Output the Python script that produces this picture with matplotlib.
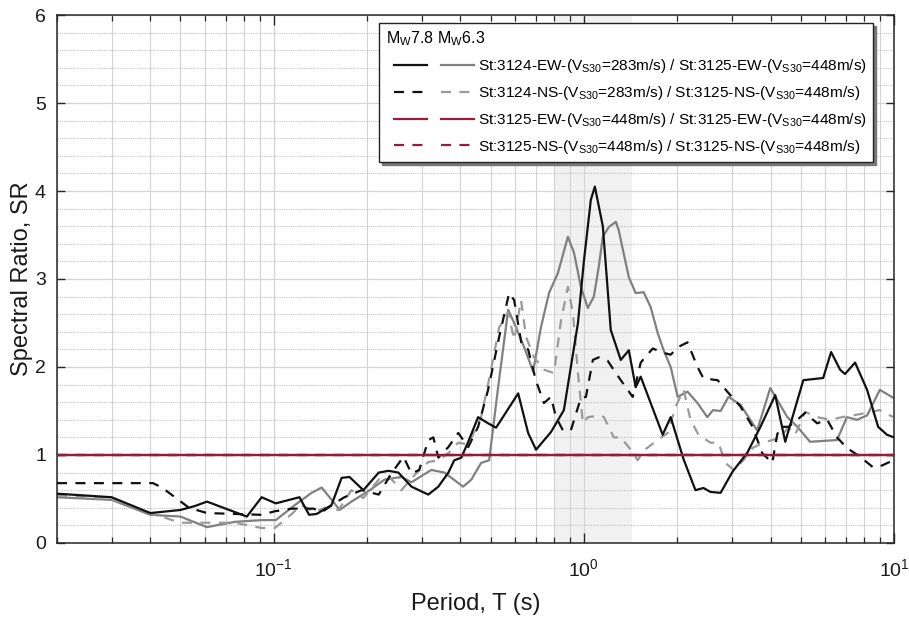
import matplotlib
matplotlib.use("Agg")
import matplotlib.pyplot as plt
from matplotlib.ticker import LogLocator, LogFormatterSciNotation, MultipleLocator, NullFormatter
from matplotlib.legend_handler import HandlerTuple

plt.rcParams['font.family'] = ['Liberation Sans', 'DejaVu Sans']
plt.rcParams['mathtext.fontset'] = 'custom'
plt.rcParams['mathtext.rm'] = 'Liberation Sans'
plt.rcParams['mathtext.it'] = 'Liberation Sans:italic'
plt.rcParams['mathtext.default'] = 'regular'

# ---- data (period T in s, spectral ratio SR) ----
T_ew78 = [0.02, 0.03, 0.04, 0.05, 0.0557, 0.0609, 0.0819, 0.0914, 0.1015, 0.121, 0.130, 0.1375, 0.1535,
          0.1655, 0.1755, 0.1945, 0.218, 0.2344, 0.2523, 0.278, 0.315, 0.3394, 0.3656, 0.382, 0.4025, 0.4237,
          0.456, 0.491, 0.521, 0.614, 0.661, 0.701, 0.783, 0.862, 0.957, 1.0, 1.053, 1.085, 1.151, 1.221,
          1.315, 1.396, 1.469, 1.525, 1.642, 1.795, 1.905, 2.097, 2.29, 2.43, 2.56, 2.76, 3.015, 3.37, 3.71,
          4.14, 4.46, 5.10, 5.91, 6.27, 6.70, 6.95, 7.49, 8.19, 8.89, 9.49, 10.0]
SR_ew78 = [0.56, 0.52, 0.34, 0.375, 0.42, 0.47, 0.30, 0.52, 0.45, 0.52, 0.32, 0.33, 0.43,
           0.74, 0.75, 0.60, 0.80, 0.82, 0.80, 0.64, 0.55, 0.64, 0.80, 0.94, 0.97, 1.15,
           1.43, 1.36, 1.31, 1.70, 1.25, 1.06, 1.26, 1.51, 2.5, 3.2, 3.9, 4.05, 3.6, 2.42,
           2.08, 2.19, 1.77, 1.89, 1.59, 1.23, 1.43, 0.95, 0.60, 0.625, 0.58, 0.57, 0.81, 1.03, 1.32,
           1.68, 1.15, 1.85, 1.875, 2.17, 1.97, 1.92, 2.05, 1.74, 1.32, 1.23, 1.2]

T_ns78 = [0.02, 0.0408, 0.0436, 0.0533, 0.0609, 0.0749, 0.0914, 0.1007, 0.1142, 0.1345, 0.1427, 0.157,
          0.169, 0.192, 0.218, 0.2395, 0.262, 0.278, 0.2945, 0.315, 0.327, 0.3394, 0.3656, 0.3935, 0.4237,
          0.456, 0.491, 0.533, 0.574, 0.596, 0.63, 0.661, 0.70, 0.743, 0.783, 0.813, 0.856, 0.908, 0.978,
          1.015, 1.069, 1.117, 1.194, 1.268, 1.365, 1.437, 1.525, 1.667, 1.808, 1.905, 2.022, 2.158, 2.325,
          2.43, 2.70, 2.90, 3.20, 3.50, 3.76, 4.05, 4.20, 4.30, 4.57, 4.88, 5.17, 5.65, 6.09, 6.55, 7.05,
          7.77, 8.56, 9.14, 9.95]
SR_ns78 = [0.68, 0.68, 0.63, 0.40, 0.34, 0.33, 0.32, 0.36, 0.39, 0.39, 0.35, 0.45,
           0.52, 0.60, 0.55, 0.79, 0.98, 0.79, 0.83, 1.17, 1.20, 0.97, 1.09, 1.25, 1.09,
           1.32, 1.74, 2.34, 2.84, 2.76, 2.25, 2.20, 1.85, 1.59, 1.66, 1.43, 1.28, 1.28, 1.65,
           1.66, 2.08, 2.11, 2.07, 1.93, 1.77, 1.66, 2.05, 2.21, 2.16, 2.14, 2.23, 2.28, 2.0,
           1.87, 1.85, 1.72, 1.55, 1.32, 1.02, 0.91, 1.23, 1.32, 1.32, 1.40, 1.48, 1.36, 1.40, 1.20, 1.08,
           0.98, 0.86, 0.88, 0.94]

T_ew63 = [0.02, 0.03, 0.04, 0.05, 0.0609, 0.0749, 0.0914, 0.1015, 0.1169, 0.1325, 0.1427, 0.157, 0.163,
          0.178, 0.204, 0.2275, 0.258, 0.278, 0.322, 0.355, 0.408, 0.4335, 0.4664, 0.495, 0.529, 0.570,
          0.596, 0.641, 0.686, 0.727, 0.772, 0.825, 0.888, 0.929, 0.978, 1.03, 1.077, 1.117, 1.151, 1.203,
          1.268, 1.296, 1.396, 1.469, 1.559, 1.642, 1.729, 1.808, 1.905, 2.007, 2.158, 2.325, 2.50, 2.61,
          2.76, 2.925, 3.20, 3.62, 3.99, 4.53, 4.88, 5.36, 6.55, 7.05, 7.60, 8.19, 9.0, 9.95]
SR_ew63 = [0.52, 0.49, 0.32, 0.30, 0.18, 0.24, 0.26, 0.26, 0.43, 0.57, 0.63, 0.45, 0.375,
           0.47, 0.60, 0.72, 0.75, 0.69, 0.83, 0.80, 0.64, 0.72, 0.91, 0.94, 1.77, 2.65,
           2.50, 2.23, 1.95, 2.45, 2.84, 3.07, 3.48, 3.30, 2.91, 2.67, 2.80, 3.14, 3.48, 3.59,
           3.65, 3.55, 3.02, 2.84, 2.85, 2.68, 2.39, 2.19, 2.0, 1.66, 1.72, 1.59, 1.43, 1.51,
           1.50, 1.66, 1.57, 1.28, 1.76, 1.43, 1.32, 1.15, 1.17, 1.43, 1.40, 1.45, 1.74, 1.65]

T_ns63 = [0.02, 0.03, 0.04, 0.05, 0.0749, 0.0914, 0.1007, 0.1085, 0.123, 0.1355, 0.146, 0.1618, 0.178,
          0.1945, 0.218, 0.236, 0.258, 0.284, 0.315, 0.3394, 0.3656, 0.3935, 0.4237, 0.4664, 0.502, 0.533,
          0.570, 0.596, 0.627, 0.651, 0.691, 0.743, 0.801, 0.844, 0.888, 0.922, 0.957, 0.993, 1.03, 1.134,
          1.16, 1.249, 1.315, 1.416, 1.491, 1.559, 1.729, 1.862, 1.977, 2.097, 2.207, 2.342, 2.56, 2.716,
          2.86, 3.04, 3.27, 3.50, 3.79, 4.24, 4.57, 4.80, 5.17, 5.65, 6.23, 6.80, 7.38, 8.19, 9.0, 9.95]
SR_ns63 = [0.54, 0.50, 0.34, 0.23, 0.23, 0.17, 0.17, 0.26, 0.43, 0.35, 0.40, 0.375, 0.60,
           0.51, 0.72, 0.75, 0.60, 0.77, 0.92, 0.94, 1.02, 1.14, 1.12, 1.43, 1.97, 2.45,
           2.62, 2.31, 2.76, 2.34, 2.11, 1.97, 1.93, 2.53, 2.91, 2.61, 1.93, 1.36, 1.43, 1.45,
           1.43, 1.20, 1.20, 1.06, 0.94, 1.05, 1.17, 1.25, 1.55, 1.74, 1.40, 1.23, 1.14, 1.14,
           0.91, 0.83, 0.94, 1.08, 1.14, 1.19, 1.31, 1.23, 1.49, 1.43, 1.40, 1.43, 1.45, 1.48, 1.51, 1.43]

# reference station divided by itself
T_ref = [0.02, 10.0]
SR_ref = [1.0, 1.0]

band_T = [0.80, 1.43]

labels = [r"St:3124-EW-(V$_{S30}$=283m/s) / St:3125-EW-(V$_{S30}$=448m/s)",
          r"St:3124-NS-(V$_{S30}$=283m/s) / St:3125-NS-(V$_{S30}$=448m/s)",
          r"St:3125-EW-(V$_{S30}$=448m/s) / St:3125-EW-(V$_{S30}$=448m/s)",
          r"St:3125-NS-(V$_{S30}$=448m/s) / St:3125-NS-(V$_{S30}$=448m/s)"]
legend_title = r"M$_W$7.8 M$_W$6.3"


class ShiftedTuple(HandlerTuple):
    """Tuple handler whose samples start a little right of the title."""
    def create_artists(self, legend, orig_handle, xdescent, ydescent, width, height, fontsize, trans):
        off = 0.5 * fontsize
        return super().create_artists(legend, orig_handle, xdescent - off, ydescent,
                                      width - off, height, fontsize, trans)


# ---- figure ----
fig = plt.figure(figsize=(9.09, 6.18), dpi=100)
ax = fig.add_axes([0.0627, 0.1214, 0.9208, 0.8543])

RED = '#951c3b'
BLACK = '#111111'
GRAY = '#808080'
GRAY_D = '#9a9a9a'
lw = 1.6
dash = (4.5, 3.8)

ax.axvspan(band_T[0], band_T[1], color='#f1f1f1', zorder=0.1, lw=0)

l_ew63, = ax.plot(T_ew63, SR_ew63, color=GRAY, lw=lw, zorder=2)
l_ns63, = ax.plot(T_ns63, SR_ns63, color=GRAY_D, lw=lw, dashes=dash, zorder=2)
l_ew78, = ax.plot(T_ew78, SR_ew78, color=BLACK, lw=lw, zorder=3)
l_ns78, = ax.plot(T_ns78, SR_ns78, color=BLACK, lw=lw, dashes=dash, zorder=3)
r_ns78, = ax.plot(T_ref, SR_ref, color=RED, lw=lw, dashes=dash, zorder=4)
r_ns63, = ax.plot(T_ref, SR_ref, color=RED, lw=lw, dashes=dash, zorder=4)
r_ew78, = ax.plot(T_ref, SR_ref, color=RED, lw=lw, zorder=5)
r_ew63, = ax.plot(T_ref, SR_ref, color=RED, lw=lw, zorder=5)

ax.set_xscale('log')
ax.set_xlim(0.02, 10)
ax.set_ylim(0, 6)

ax.xaxis.set_major_locator(LogLocator(base=10, numticks=10))
ax.xaxis.set_major_formatter(LogFormatterSciNotation())
ax.xaxis.set_minor_locator(LogLocator(base=10, subs=range(2, 10), numticks=20))
ax.xaxis.set_minor_formatter(NullFormatter())
ax.yaxis.set_major_locator(MultipleLocator(1))
ax.yaxis.set_minor_locator(MultipleLocator(0.2))

ax.set_axisbelow(True)
ax.grid(which='major', axis='both', color='#d4d4d4', lw=0.9, ls='-')
ax.grid(which='minor', axis='x', color='#d4d4d4', lw=0.8, ls='-')
ax.grid(which='minor', axis='y', color='#c4c4c4', lw=0.8, ls=(0, (1, 1)))

ax.tick_params(which='both', direction='in', top=True, right=True, colors='#262626',
               labelcolor='#1a1a1a', labelsize=14)
ax.tick_params(axis='x', which='major', length=7, width=1, pad=11)
ax.tick_params(axis='x', which='minor', length=4, width=0.9)
ax.tick_params(axis='y', which='major', length=6, width=1, pad=8)
ax.tick_params(axis='y', which='minor', length=0)
for s in ax.spines.values():
    s.set_color('#262626')
    s.set_linewidth(1.1)

ax.set_xlabel('Period, T (s)', fontsize=17, color='#1a1a1a', labelpad=9)
ax.set_ylabel('Spectral Ratio, SR', fontsize=17, color='#1a1a1a', labelpad=1)

leg = ax.legend([(l_ew78, l_ew63), (l_ns78, l_ns63), (r_ew78, r_ew63), (r_ns78, r_ns63)], labels,
                handler_map={tuple: ShiftedTuple(ndivide=None, pad=0.9)},
                loc='upper right', bbox_to_anchor=(0.975, 0.985), borderaxespad=0,
                fontsize=11.1, title=legend_title, title_fontsize=11.5, alignment='left',
                handlelength=5.7, handletextpad=0.25, labelspacing=0.58, borderpad=0.42,
                frameon=True, fancybox=False, shadow={'color': '#777777', 'alpha': 1.0}, framealpha=1)
leg.get_frame().set_edgecolor('#222222')
leg.get_frame().set_linewidth(1.0)
leg.set_zorder(10)

fig.savefig('out.png', dpi=100)
